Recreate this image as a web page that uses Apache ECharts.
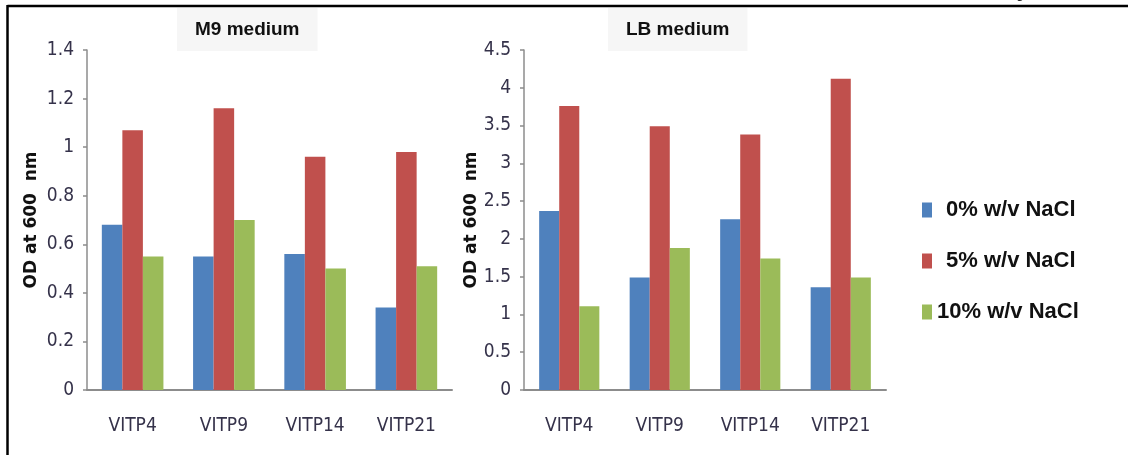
<!DOCTYPE html>
<html>
<head>
<meta charset="utf-8">
<script src="https://cdn.jsdelivr.net/npm/echarts@6/dist/echarts.min.js"></script>
<style>
html,body{margin:0;padding:0;background:#fff;}
#c{width:1128px;height:455px;}
</style>
</head>
<body>
<div id="c"></div>
<script>
const categories = ['VITP4', 'VITP9', 'VITP14', 'VITP21'];
const seriesNames = ['0% w/v NaCl', '5% w/v NaCl', '10% w/v NaCl'];
const m9_0 = [0.68, 0.55, 0.56, 0.34];
const m9_5 = [1.07, 1.16, 0.96, 0.98];
const m9_10 = [0.55, 0.70, 0.50, 0.51];
const lb_0 = [2.37, 1.49, 2.26, 1.36];
const lb_5 = [3.76, 3.49, 3.38, 4.12];
const lb_10 = [1.11, 1.88, 1.74, 1.49];
const m9Ticks = {min: 0, max: 1.4, interval: 0.2};
const lbTicks = {min: 0, max: 4.5, interval: 0.5};

const colors = ['#4f81bd', '#c0504d', '#9bbb59'];
const narrow = '"Liberation Sans Narrow", "DejaVu Sans Condensed", "Liberation Sans", Arial, sans-serif';
const axisGray = '#8c8c8c';
const labelColor = '#35324a';

function yAxis(idx, t, gap) {
  return {
    type: 'value', gridIndex: idx, min: t.min, max: t.max, interval: t.interval,
    name: 'OD at 600  nm', nameLocation: 'middle', nameGap: gap, nameRotate: 90,
    nameTextStyle: {fontFamily: '"DejaVu Sans", sans-serif', fontWeight: 'bold', fontSize: 17, color: '#111'},
    axisLine: {show: true, lineStyle: {color: axisGray, width: 1.5}},
    axisTick: {show: true, length: 4, lineStyle: {color: axisGray, width: 1.5}},
    splitLine: {show: false},
    axisLabel: {fontFamily: narrow, fontSize: 19, color: labelColor, margin: 13,
      formatter: v => String(Math.round(v * 10) / 10)}
  };
}
function xAxis(idx) {
  return {
    type: 'category', gridIndex: idx, data: categories,
    axisLine: {show: true, lineStyle: {color: axisGray, width: 2}},
    axisTick: {show: false},
    axisLabel: {fontFamily: narrow, fontSize: 19, color: labelColor, margin: 27}
  };
}
function bars(idx, arrs, gapPct) {
  return arrs.map((a, i) => ({
    name: seriesNames[i], type: 'bar', xAxisIndex: idx, yAxisIndex: idx, data: a,
    barGap: '0%', barCategoryGap: gapPct, itemStyle: {color: colors[i]}, silent: true
  }));
}

const chart = echarts.init(document.getElementById('c'), null, {renderer: 'canvas'});
chart.setOption({
  animation: false,
  backgroundColor: '#fff',
  color: colors,
  title: [
    {text: 'M9 medium', left: 177, top: 8, padding: [12, 18, 12, 18], backgroundColor: '#f6f6f6',
     textStyle: {fontFamily: '"Liberation Sans", Arial, sans-serif', fontWeight: 'bold', fontSize: 19, color: '#111'}},
    {text: 'LB medium', left: 608, top: 8, padding: [12, 18, 12, 18], backgroundColor: '#f6f6f6',
     textStyle: {fontFamily: '"Liberation Sans", Arial, sans-serif', fontWeight: 'bold', fontSize: 19, color: '#111'}}
  ],
  legend: {
    orient: 'vertical', left: 917, top: 194, itemGap: 29, itemWidth: 10, itemHeight: 15,
    icon: 'rect', data: seriesNames, selectedMode: false,
    textStyle: {fontFamily: '"Liberation Sans", Arial, sans-serif', fontWeight: 'bold', fontSize: 22, color: '#111',
      rich: {p: {padding: [0, 0, 0, 9], fontFamily: '"Liberation Sans", Arial, sans-serif', fontWeight: 'bold', fontSize: 22, color: '#111'}}},
    formatter: n => n.indexOf('10') === 0 ? n : '{p|' + n + '}'
  },
  grid: [
    {left: 87, top: 50, width: 365, height: 340},
    {left: 524, top: 50, width: 362, height: 340}
  ],
  xAxis: [xAxis(0), xAxis(1)],
  yAxis: [yAxis(0, m9Ticks, 47), yAxis(1, lbTicks, 44)],
  series: [...bars(0, [m9_0, m9_5, m9_10], '32.5%'), ...bars(1, [lb_0, lb_5, lb_10], '33.5%')],
  graphic: [
    {type: 'text', left: 1016, top: -13, style: {text: 'g', fontSize: 14, fontFamily: 'Liberation Sans', fill: '#222'}},
    {type: 'line', shape: {x1: 7.5, y1: 6, x2: 1128, y2: 6}, style: {stroke: '#000', lineWidth: 2.5}, z: 100},
    {type: 'line', shape: {x1: 7.5, y1: 5, x2: 7.5, y2: 455}, style: {stroke: '#000', lineWidth: 2.5}, z: 100}
  ]
});
</script>
</body>
</html>
